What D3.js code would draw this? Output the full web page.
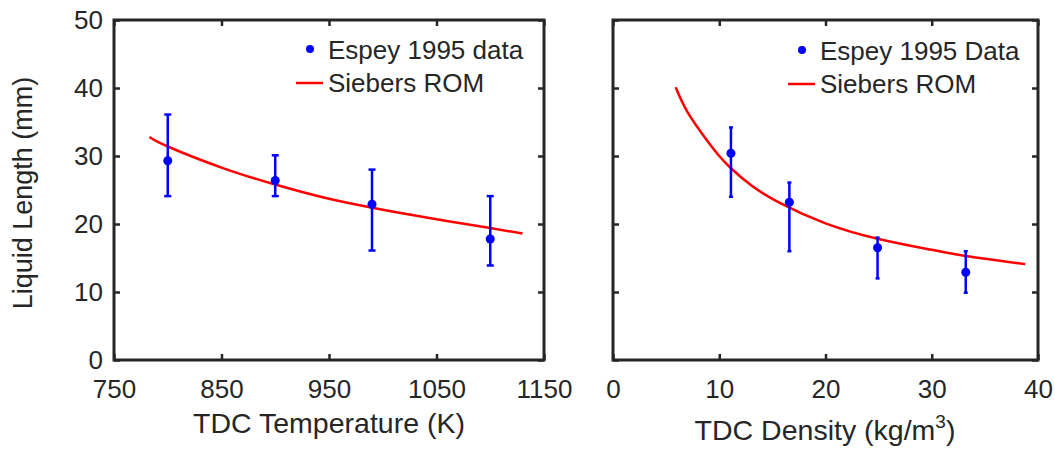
<!DOCTYPE html>
<html>
<head>
<meta charset="utf-8">
<script src="https://cdn.jsdelivr.net/npm/d3@7"></script>
<style>
  body { margin: 0; background: #fff; }
  text { font-family: "Liberation Sans", Arial, Helvetica, sans-serif; fill: #262626; }
</style>
</head>
<body>
<div class="visuals"></div>
<script>
// left panel: liquid length vs TDC temperature
const tempData = [800, 900, 990, 1100];
const tempLen = [29.3, 26.4, 22.9, 17.8];
const tempLow = [24.1, 24.1, 16.1, 13.9];
const tempHigh = [36.1, 30.1, 28.0, 24.1];
const romTemp = [783, 800, 850, 900, 950, 1000, 1050, 1100, 1130];
const romTempLen = [32.8, 31.4, 28.3, 25.8, 23.7, 22.1, 20.7, 19.4, 18.6];
const tempTicks = [750, 850, 950, 1050, 1150];

// right panel: liquid length vs TDC density
const densData = [11.1, 16.6, 24.9, 33.2];
const densLen = [30.4, 23.2, 16.5, 12.9];
const densLow = [24.0, 16.0, 12.0, 9.9];
const densHigh = [34.2, 26.1, 18.0, 16.0];
const romDens = [5.9, 7, 8.8, 10, 11.1, 13, 15.7, 20, 25, 30, 33.2, 38.8];
const romDensLen = [40.1, 36.5, 32.4, 30.0, 28.2, 25.7, 23.1, 20.1, 17.8, 16.2, 15.3, 14.1];
const densTicks = [0, 10, 20, 30, 40];

const lenTicks = [0, 10, 20, 30, 40, 50];

const width = 1055;
const height = 450;
const axisColor = "#262626";

const svg = d3.select(".visuals")
  .append("svg")
  .attr("width", width)
  .attr("height", height);

svg.append("rect").attr("width", width).attr("height", height).attr("fill", "#fff");

function drawPanel(opts) {
  const x = d3.scaleLinear().domain(opts.xDomain).range([opts.left, opts.right]);
  const y = d3.scaleLinear().domain([0, 50]).range([360, 20]);
  const g = svg.append("g");

  // axes (ticks inward)
  const bottom = g.append("g").attr("transform", "translate(0,360)")
    .call(d3.axisBottom(x).tickValues(opts.xTicks).tickSizeInner(-6).tickSizeOuter(0).tickPadding(20)
      .tickFormat(d3.format("d")));
  const top = g.append("g").attr("transform", "translate(0,20)")
    .call(d3.axisTop(x).tickValues(opts.xTicks).tickSizeInner(-6).tickSizeOuter(0).tickFormat(""));
  const leftAx = g.append("g").attr("transform", `translate(${opts.left},0)`)
    .call(d3.axisLeft(y).tickValues(lenTicks).tickSizeInner(-6).tickSizeOuter(0).tickPadding(11)
      .tickFormat(opts.yLabels ? d3.format("d") : ""));
  const rightAx = g.append("g").attr("transform", `translate(${opts.right},0)`)
    .call(d3.axisRight(y).tickValues(lenTicks).tickSizeInner(-6).tickSizeOuter(0).tickFormat(""));

  [bottom, top, leftAx, rightAx].forEach(a => {
    a.select(".domain").remove();
    a.selectAll("line").attr("stroke", axisColor).attr("stroke-width", 2.5);
    a.selectAll("text").attr("font-size", 26).attr("fill", axisColor)
      .style("font-family", '"Liberation Sans", Arial, sans-serif');
  });

  g.append("rect")
    .attr("x", opts.left).attr("y", 20)
    .attr("width", opts.right - opts.left).attr("height", 340)
    .attr("fill", "none").attr("stroke", axisColor).attr("stroke-width", 3);

  // model curve
  const line = d3.line()
    .x(d => x(d[0])).y(d => y(d[1]))
    .curve(d3.curveNatural);
  g.append("path")
    .datum(opts.romX.map((v, i) => [v, opts.romY[i]]))
    .attr("d", line)
    .attr("fill", "none").attr("stroke", "#ff0000").attr("stroke-width", 2.5);

  // error bars
  const pts = opts.dataX.map((v, i) => ({x: v, y: opts.dataY[i], lo: opts.low[i], hi: opts.high[i]}));
  const eb = g.selectAll(".err").data(pts).enter().append("g").attr("class", "err")
    .attr("stroke", "#0000ff").attr("stroke-width", 2.5);
  eb.append("line")
    .attr("x1", d => x(d.x)).attr("x2", d => x(d.x))
    .attr("y1", d => y(d.lo)).attr("y2", d => y(d.hi));
  eb.append("line")
    .attr("x1", d => x(d.x) - opts.cap).attr("x2", d => x(d.x) + opts.cap)
    .attr("y1", d => y(d.lo)).attr("y2", d => y(d.lo));
  eb.append("line")
    .attr("x1", d => x(d.x) - opts.cap).attr("x2", d => x(d.x) + opts.cap)
    .attr("y1", d => y(d.hi)).attr("y2", d => y(d.hi));

  g.selectAll(".dot").data(pts).enter().append("circle")
    .attr("class", "dot")
    .attr("cx", d => x(d.x)).attr("cy", d => y(d.y))
    .attr("r", 4.5).attr("fill", "#0000ff");

  // legend
  const lx = opts.legendX;
  g.append("circle").attr("cx", lx - 18).attr("cy", opts.legendY - 10).attr("r", 4).attr("fill", "#0000ff");
  g.append("text").attr("x", lx).attr("y", opts.legendY).attr("font-size", 26).text(opts.dataName);
  g.append("line")
    .attr("x1", lx - 32).attr("x2", lx - 5)
    .attr("y1", opts.legendY + 24).attr("y2", opts.legendY + 24)
    .attr("stroke", "#ff0000").attr("stroke-width", 2.5);
  g.append("text").attr("x", lx).attr("y", opts.legendY + 33).attr("font-size", 26).text("Siebers ROM");

  return x;
}

drawPanel({
  left: 114, right: 544, xDomain: [750, 1150], xTicks: tempTicks, yLabels: true,
  dataX: tempData, dataY: tempLen, low: tempLow, high: tempHigh, cap: 3.5,
  romX: romTemp, romY: romTempLen,
  legendX: 328, legendY: 59, dataName: "Espey 1995 data"
});

drawPanel({
  left: 613, right: 1038, xDomain: [0, 40], xTicks: densTicks, yLabels: false,
  dataX: densData, dataY: densLen, low: densLow, high: densHigh, cap: 2,
  romX: romDens, romY: romDensLen,
  legendX: 820, legendY: 60, dataName: "Espey 1995 Data"
});

// axis titles
svg.append("text")
  .attr("x", 329).attr("y", 433)
  .attr("text-anchor", "middle").attr("font-size", 28.5)
  .text("TDC Temperature (K)");

const dl = svg.append("text")
  .attr("x", 825).attr("y", 440)
  .attr("text-anchor", "middle").attr("font-size", 28.5);
dl.append("tspan").text("TDC Density (kg/m");
dl.append("tspan").attr("dy", -12).attr("font-size", 19).text("3");
dl.append("tspan").attr("dy", 12).text(")");

svg.append("text")
  .attr("transform", "translate(32,193) rotate(-90)")
  .attr("text-anchor", "middle").attr("font-size", 27)
  .text("Liquid Length (mm)");
</script>
</body>
</html>
